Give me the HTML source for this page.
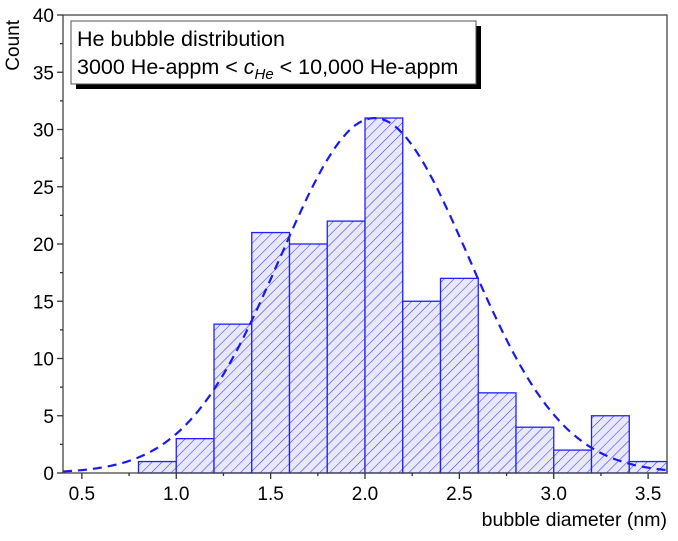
<!DOCTYPE html>
<html><head><meta charset="utf-8"><style>
body{margin:0;background:#fff;}
svg text{font-family:"Liberation Sans",Arial,sans-serif;}
</style></head><body>
<svg id="chart" width="678" height="536" viewBox="0 0 678 536" xmlns="http://www.w3.org/2000/svg">
<defs>
<pattern id="hatch" patternUnits="userSpaceOnUse" width="7" height="7" patternTransform="rotate(45)">
<rect width="7" height="7" fill="#e8e8ff"/>
<line x1="0" y1="0" x2="0" y2="7" stroke="#3a3aff" stroke-width="1.1"/>
</pattern>
</defs>
<g id="bars"></g>
<path id="fit" fill="none" stroke="#1a1aee" stroke-width="2.2" stroke-dasharray="9,6"/>
<rect x="63" y="15" width="604" height="458" fill="none" stroke="#444" stroke-width="1.3"/>
<g id="axes"></g>
<text transform="translate(19,20) rotate(-90)" text-anchor="end" font-size="19">Count</text>
<text x="667" y="526" text-anchor="end" font-size="19.5">bubble diameter (nm)</text>
<g>
<rect x="76" y="26" width="405" height="63" fill="#000"/>
<rect x="71" y="21" width="405" height="63" fill="#fff" stroke="#555" stroke-width="1"/>
<text x="77" y="46" font-size="21.5">He bubble distribution</text>
<text x="77" y="74" font-size="21.5">3000 He-appm &lt; <tspan font-style="italic">c</tspan><tspan font-style="italic" font-size="15" dy="5">He</tspan><tspan dy="-5"> &lt; 10,000 He-appm</tspan></text>
</g>
</svg>
<script>
const binStarts=[0.8,1.0,1.2,1.4,1.6,1.8,2.0,2.2,2.4,2.6,2.8,3.0,3.2,3.4];
const counts=[1,3,13,21,20,22,31,15,17,7,4,2,5,1];
const binWidth=[0.2];
const fitParams=[31,2.05,0.5];
const xTicks=[0.5,1.0,1.5,2.0,2.5,3.0,3.5];
const yTicks=[0,5,10,15,20,25,30,35,40];
const NS="http://www.w3.org/2000/svg";
const X0=63,X1=667,Y0=473,Y1=15,xmin=0.4,xmax=3.6,ymin=0,ymax=40;
function sx(v){return X0+(v-xmin)/(xmax-xmin)*(X1-X0);}
function sy(v){return Y0-(v-ymin)/(ymax-ymin)*(Y0-Y1);}
const bars=document.getElementById('bars');
binStarts.forEach((b,i)=>{
 const r=document.createElementNS(NS,'rect');
 
 
 const x=sx(b),x2=sx(b+binWidth[0]);
 r.setAttribute('x',x);r.setAttribute('width',x2-x);
 r.setAttribute('y',sy(counts[i]));r.setAttribute('height',sy(0)-sy(counts[i]));
 r.setAttribute('fill','url(#hatch)');r.setAttribute('stroke','#2020ff');r.setAttribute('stroke-width','1.3');
 bars.appendChild(r);
});
let d='';
for(let k=0;k<=200;k++){const v=xmin+(xmax-xmin)*k/200;
 const y=fitParams[0]*Math.exp(-Math.pow(v-fitParams[1],2)/(2*fitParams[2]*fitParams[2]));
 d+=(k?'L':'M')+sx(v).toFixed(1)+','+sy(y).toFixed(1);}
document.getElementById('fit').setAttribute('d',d);
const ax=document.getElementById('axes');
function line(x1,y1,x2,y2,name){const l=document.createElementNS(NS,'line');
 
 
 l.setAttribute('x1',x1);l.setAttribute('y1',y1);l.setAttribute('x2',x2);l.setAttribute('y2',y2);
 l.setAttribute('stroke','#333');l.setAttribute('stroke-width','1.3');ax.appendChild(l);}
function text(x,y,s,anchor,name){const t=document.createElementNS(NS,'text');
 
 
 t.setAttribute('x',x);t.setAttribute('y',y);t.setAttribute('text-anchor',anchor);t.setAttribute('font-size','19');
 t.textContent=s;ax.appendChild(t);}
xTicks.forEach(v=>{line(sx(v),Y0,sx(v),Y0+6,'x-tick');text(sx(v),Y0+27,v.toFixed(1),'middle','x-tick-label');
 line(sx(v+0.25),Y0,sx(v+0.25),Y0+3,'x-minor-tick');});
yTicks.forEach(v=>{line(X0-6,sy(v),X0,sy(v),'y-tick');text(X0-9,sy(v)+7,String(v),'end','y-tick-label');
 if(v<40)line(X0-3,sy(v+2.5),X0,sy(v+2.5),'y-minor-tick');});
</script>
</body></html>
